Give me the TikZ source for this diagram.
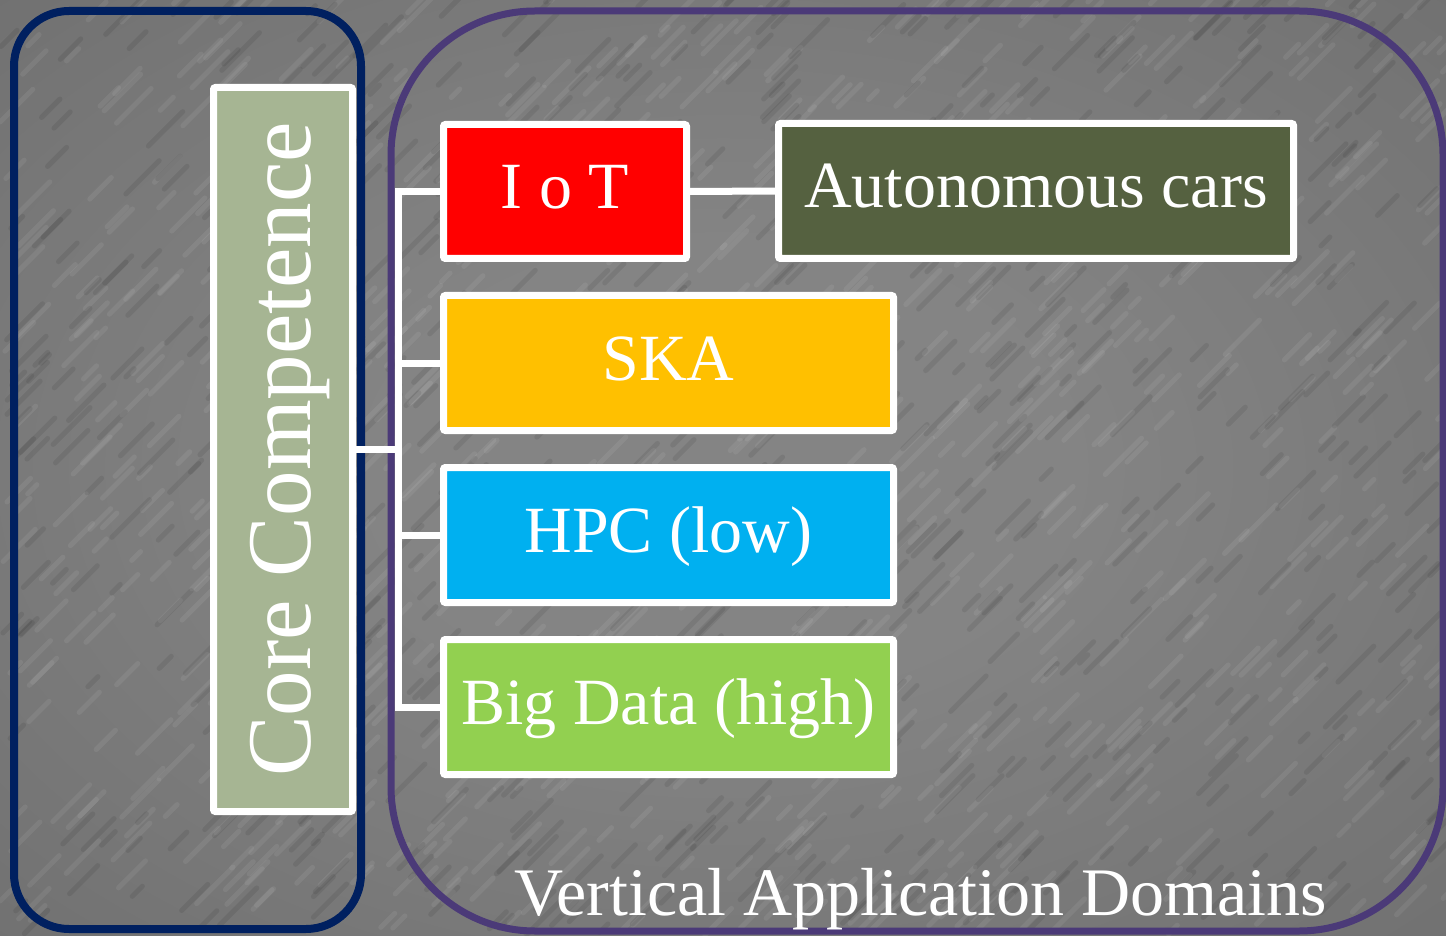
\documentclass[tikz,border=0pt]{standalone}
\usepackage{fontspec}
\setmainfont{Liberation Serif}
\definecolor{navy}{HTML}{002060}
\definecolor{purp}{HTML}{4B3A78}
\definecolor{sage}{HTML}{A6B593}
\definecolor{olive}{HTML}{556140}
\definecolor{iotred}{HTML}{FF0000}
\definecolor{skaorange}{HTML}{FFC000}
\definecolor{hpcblue}{HTML}{00B0F0}
\definecolor{bdgreen}{HTML}{92D050}
\definecolor{bgin}{RGB}{132,132,132}
\definecolor{bgmid}{RGB}{108,108,108}
\definecolor{bgout}{RGB}{60,60,60}
\pgfdeclareradialshading{bgshade}{\pgfpoint{0bp}{0bp}}{color(0bp)=(bgin); color(12bp)=(bgin); color(42bp)=(bgmid); color(72bp)=(bgout)}
\tikzset{
  box/.style={draw=white, line width=3.5pt, rounded corners=1pt, text=white,
    inner sep=0pt, outer sep=0pt, align=center,
    font=\fontsize{33}{36}\selectfont, text height=24pt, text depth=7pt},
  conn/.style={draw=white, line width=3.5pt},
  label/.style={text=white, inner sep=0pt},
}
\begin{document}
\begin{tikzpicture}[x=0.5pt,y=-0.5pt]
\useasboundingbox (0,0) rectangle (1446,936);
\shade[shading=bgshade] (0,0) rectangle (1446,936);
\pgfmathsetseed{7}
\foreach \i in {1,...,900}{
  \pgfmathsetmacro{\xx}{rnd*1446}
  \pgfmathsetmacro{\yy}{rnd*936}
  \pgfmathsetmacro{\ll}{8+rnd*30}
  \draw[white, opacity=0.07, line width=2.5pt, line cap=round] (\xx,\yy) -- ++(\ll,-\ll);
}
\foreach \i in {1,...,700}{
  \pgfmathsetmacro{\xx}{rnd*1446}
  \pgfmathsetmacro{\yy}{rnd*936}
  \pgfmathsetmacro{\ll}{8+rnd*30}
  \draw[black, opacity=0.08, line width=2.5pt, line cap=round] (\xx,\yy) -- ++(\ll,-\ll);
}
% containers
\draw[navy, line width=4pt, rounded corners=27.5pt] (14,11) rectangle (361,929);
\draw[purp, line width=3.5pt, rounded corners=72pt] (391,11) rectangle (1443,931);
% nodes
\node[box, fill=sage, minimum width=69.5pt, minimum height=362pt] (core) at (283,449.5) {};
\node[label, rotate=90, anchor=base, font=\fontsize{45.5}{50}\selectfont] (coretext) at (310,449.5) {Core Competence};
\node[box, fill=iotred, minimum width=121.5pt, minimum height=67pt] (iot) at (565,191.5) {I o T};
\node[box, fill=olive, minimum width=257.5pt, minimum height=67.5pt] (auto) at (1036,191) {Autonomous cars};
\node[box, fill=skaorange, minimum width=225pt, minimum height=67.5pt] (ska) at (668.5,363) {SKA};
\node[box, fill=hpcblue, minimum width=225pt, minimum height=67.5pt] (hpc) at (668.5,535) {HPC (low)};
\node[box, fill=bdgreen, minimum width=225pt, minimum height=67.5pt] (big) at (668.5,707) {Big Data (high)};
\node[label, anchor=base, font=\fontsize{34}{38}\selectfont] (title) at (921,915) {Vertical Application Domains};
% connectors
\coordinate (j) at (398,449.5);
\draw[conn] (iot.west) -| (j) |- (big.west);
\draw[conn] (j) |- (ska.west);
\draw[conn] (j) |- (hpc.west);
\draw[conn] (core.east) -- (j);
\draw[conn] (iot.east) -- (auto.west);
\end{tikzpicture}
\end{document}
